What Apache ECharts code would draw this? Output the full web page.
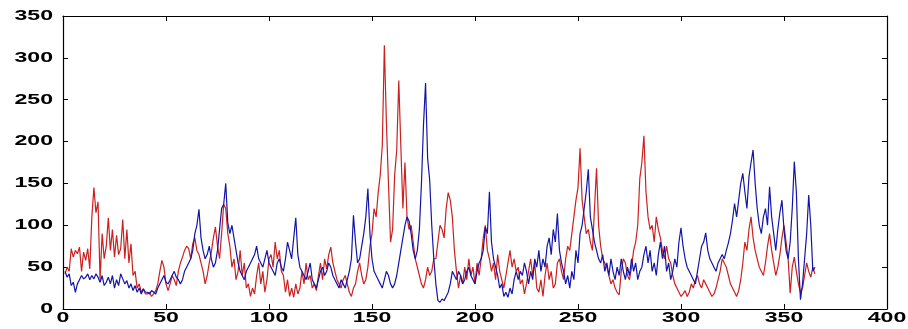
<!DOCTYPE html>
<html>
<head>
<meta charset="utf-8">
<script src="https://cdn.jsdelivr.net/npm/echarts@6/dist/echarts.min.js"></script>
<style>
  html, body { margin: 0; padding: 0; background: #ffffff; }
  #chart { width: 908px; height: 329px; }
</style>
</head>
<body>
<div id="chart"></div>
<script>
// Daily values, day 1..365
const redSeries = [
  42, 50, 45, 72, 62, 70, 66, 74, 45, 68,
  58, 72, 48, 110, 145, 115, 128, 35, 90, 60,
  75, 109, 70, 95, 62, 88, 65, 72, 107, 60,
  95, 55, 78, 40, 45, 25, 30, 20, 24, 18,
  18, 20, 15, 18, 22, 30, 45, 58, 50, 30,
  22, 30, 40, 35, 28, 45, 55, 62, 70, 75,
  72, 60, 78, 85, 70, 65, 55, 45, 30, 40,
  55, 68, 85, 98, 75, 60, 90, 125, 120, 90,
  75, 50, 60, 35, 45, 70, 40, 55, 25, 30,
  15, 25, 18, 40, 55, 30, 45, 20, 35, 60,
  65, 50, 80, 60, 70, 45, 40, 20, 35, 15,
  25, 14, 30, 18, 25, 45, 30, 55, 35, 40,
  25, 30, 22, 40, 55, 35, 60, 48, 65, 74,
  55, 45, 35, 30, 25, 35, 40, 30, 20, 15,
  25, 30, 45, 55, 40, 30, 35, 50, 75, 90,
  120, 110, 139, 160, 196, 315, 222, 150, 80, 95,
  160, 190, 273, 194, 120, 175, 110, 95, 100, 80,
  60, 50, 40, 30, 25, 35, 50, 40, 45, 60,
  60, 80, 100, 95, 85, 120, 139, 130, 110, 70,
  45, 25, 40, 30, 50, 35, 60, 40, 50, 30,
  55, 40, 60, 85, 100, 70, 60, 45, 55, 35,
  65, 45, 35, 25, 40, 55, 70, 50, 60, 45,
  50, 30, 35, 18, 30, 45, 60, 40, 55, 25,
  20, 35, 15, 40, 55, 35, 45, 25, 30, 55,
  60, 45, 35, 60, 75, 70, 90, 110, 130, 145,
  192, 130, 110, 90, 95, 80, 70, 120, 168, 100,
  75, 60, 55, 50, 40, 30, 35, 25, 20, 17,
  45, 60, 55, 40, 35, 50, 70, 80, 100, 156,
  175, 207, 140, 110, 95, 100, 80, 110, 95, 85,
  70, 60, 75, 60, 55, 40, 30, 25, 20, 15,
  18, 22, 15, 20, 30, 25, 35, 40, 30, 25,
  35, 30, 25, 20, 15, 18, 25, 35, 45, 60,
  55, 50, 40, 30, 25, 20, 15, 22, 35, 55,
  80, 70, 95, 110, 85, 70, 60, 50, 45, 40,
  55, 75, 90, 70, 55, 40, 50, 65, 85, 100,
  80, 60, 19, 50, 62, 45, 30, 20, 25, 40,
  55, 45, 38, 50, 42
];

const blueSeries = [
  45, 38, 42, 28, 32, 20, 30, 35, 40, 36,
  38, 42, 35, 40, 36, 42, 38, 32, 40, 28,
  32, 38, 30, 40, 25, 35, 28, 42, 36, 30,
  34, 25, 30, 22, 28, 20, 25, 18, 24, 20,
  20, 18, 22, 20, 18, 25, 30, 35, 40, 32,
  30, 35, 40, 45, 38, 35, 30, 35, 45, 50,
  55, 60, 70, 90, 100, 119, 85, 70, 60, 65,
  75, 60, 50, 55, 70, 95, 120, 125, 150, 103,
  90, 100, 85, 70, 55, 45, 40, 35, 45, 50,
  55, 60, 65, 75, 60, 55, 50, 60, 70, 55,
  50, 45, 40, 55, 60, 50, 45, 60, 80, 70,
  60, 85, 109, 65, 50, 45, 40, 35, 45, 55,
  35, 30, 25, 35, 45, 50, 40, 45, 55, 50,
  40, 35, 30, 25, 35, 30, 25, 35, 45, 60,
  112, 80, 55, 60, 75, 90, 110, 144, 90, 60,
  45, 40, 35, 30, 25, 35, 45, 40, 30, 25,
  30, 40, 55, 70, 85, 100, 110, 105, 90, 70,
  60, 70, 95, 150, 220, 270, 180, 154, 100, 60,
  30, 10, 8, 12, 10, 15, 20, 30, 45, 40,
  35, 45, 40, 30, 35, 45, 50, 40, 35, 30,
  45, 55, 60, 70, 98, 90, 140, 80, 60, 50,
  40, 25, 30, 15, 20, 14, 25, 18, 35, 45,
  35, 45, 40, 55, 45, 30, 45, 35, 60, 50,
  70, 45, 60, 50, 75, 85, 65, 95, 80, 114,
  70, 55, 45, 30, 40, 25, 45, 35, 70, 55,
  90, 100, 120, 140, 167, 110, 95, 80, 70, 60,
  55, 65, 45, 55, 40, 60, 45, 35, 50, 40,
  60, 45, 35, 50, 40, 60, 45, 55, 35, 45,
  50, 65, 75, 55, 70, 45, 55, 40, 65, 80,
  60, 75, 45, 55, 35, 45, 60, 50, 80, 97,
  75, 60, 50, 45, 40, 35, 30, 45, 60, 75,
  80, 91, 70, 60, 55, 50, 45, 55, 60, 65,
  60, 70, 79, 90, 106, 126, 110, 130, 150, 162,
  140, 120, 158, 175, 190, 150, 120, 100, 90, 110,
  120, 100, 146, 110, 90, 70, 95, 115, 130, 95,
  70, 60, 80, 120, 176, 140, 60, 11, 30, 60,
  90, 136, 100, 45, 50
];

const xTickLabels = [0, 50, 100, 150, 200, 250, 300, 350, 400];
const yTickLabels = [0, 50, 100, 150, 200, 250, 300, 350];

// pair each value with its day number (1-based)
const toPoints = arr => arr.map((v, i) => [i + 1, v]);

const chart = echarts.init(document.getElementById('chart'), null, { renderer: 'canvas' });

const frameLine = { show: true, onZero: false, lineStyle: { color: '#000', width: 1.2 } };
const innerTick = { show: true, inside: true, length: 5, lineStyle: { color: '#000', width: 1 } };

const xBase = {
  type: 'value', min: 0, max: 400, interval: 50,
  axisLine: frameLine, axisTick: innerTick,
  axisLabel: { show: false }, splitLine: { show: false }
};
const yBase = {
  type: 'value', min: 0, max: 350, interval: 50,
  axisLine: frameLine, axisTick: innerTick,
  axisLabel: { show: false }, splitLine: { show: false }
};

chart.setOption({
  animation: false,
  backgroundColor: '#ffffff',
  grid: { left: 63, right: 21, top: 16, bottom: 20 },
  xAxis: [
    Object.assign({}, xBase, { position: 'bottom' }),
    Object.assign({}, xBase, { position: 'top' })
  ],
  yAxis: [
    Object.assign({}, yBase, { position: 'left' }),
    Object.assign({}, yBase, { position: 'right' })
  ],
  series: [
    {
      type: 'line', name: 'red', data: toPoints(redSeries),
      showSymbol: false, symbol: 'none',
      lineStyle: { color: '#cc2020', width: 1.2 }, z: 2
    },
    {
      type: 'line', name: 'blue', data: toPoints(blueSeries),
      showSymbol: false, symbol: 'none',
      lineStyle: { color: '#1414a8', width: 1.2 }, z: 3
    }
  ]
});

// Wide bold tick labels placed at the axis tick positions
const labelFont = 'bold 14px "Liberation Sans", Arial, sans-serif';
const stretch = 1.65;
const graphics = [];
xTickLabels.forEach(v => {
  const px = chart.convertToPixel({ xAxisIndex: 0 }, v);
  graphics.push({
    type: 'text', x: px, y: 311, scaleX: stretch, silent: true,
    style: { text: String(v), font: labelFont, fill: '#000', textAlign: 'center', textVerticalAlign: 'top' }
  });
});
yTickLabels.forEach(v => {
  const py = chart.convertToPixel({ yAxisIndex: 0 }, v);
  graphics.push({
    type: 'text', x: 53, y: py, scaleX: stretch, silent: true,
    style: { text: String(v), font: labelFont, fill: '#000', textAlign: 'right', textVerticalAlign: 'middle' }
  });
});
chart.setOption({ graphic: graphics });
</script>
</body>
</html>
